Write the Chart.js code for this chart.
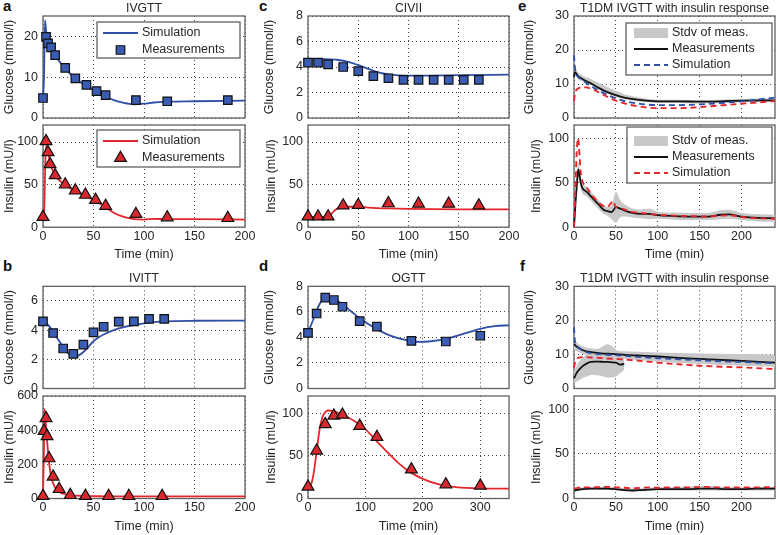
<!DOCTYPE html>
<html><head><meta charset="utf-8">
<script src="https://cdn.jsdelivr.net/npm/chart.js@4/dist/chart.umd.min.js"></script>
<style>
body{margin:0;background:#fff;width:777px;height:535px;position:relative;overflow:hidden;font-family:"Liberation Sans",Arial,sans-serif}
canvas{position:absolute}
.lt{position:absolute;font-weight:bold;font-size:15px;line-height:15px;color:#111}
</style></head><body>
<div class="lt" style="left:3px;top:-2px">a</div>
<div class="lt" style="left:3px;top:258px">b</div>
<div class="lt" style="left:259px;top:-2px">c</div>
<div class="lt" style="left:259px;top:258px">d</div>
<div class="lt" style="left:518px;top:-2px">e</div>
<div class="lt" style="left:520px;top:258px">f</div>
<script>
// ---------- DATA ----------
// a: IVGTT
const aGlucTime = [0, 3, 5, 8, 12, 22, 32, 43, 53, 62, 92, 123, 183];
const aGlucMeas = [4.9, 19.9, 18.3, 17.3, 15.4, 12.3, 9.7, 8.1, 6.6, 5.6, 4.4, 4.1, 4.4];
const aGlucSimTime = [0, 1, 2, 3, 4, 6, 8, 12, 20, 30, 40, 50, 60, 70, 80, 90, 100, 110, 120, 150, 200];
const aGlucSim = [4.9, 10, 23.9, 21.5, 19.8, 18.2, 17.1, 15.3, 12.7, 10.1, 8.3, 6.8, 5.5, 4.4, 3.7, 3.35, 3.5, 3.8, 3.95, 4.1, 4.25];
const aInsTime = [0, 3, 5, 7, 12, 22, 32, 42, 52, 62, 92, 123, 183];
const aInsMeas = [12, 101, 88, 74, 61, 50, 43, 38, 32, 25, 15.5, 11.5, 10.7];
const aInsSimTime = [0, 1, 2, 2.5, 3.5, 5, 8, 12, 20, 30, 40, 50, 60, 70, 80, 90, 100, 110, 120, 150, 200];
const aInsSim = [12, 14, 60, 85, 96, 88, 72, 61, 51, 44, 38, 32, 25, 17, 12, 9.5, 9, 9.8, 9.5, 9.5, 9];
// b: IVITT
const bGlucTime = [0, 10, 20, 30, 40, 50, 60, 75, 90, 105, 120];
const bGlucMeas = [4.6, 3.8, 2.74, 2.37, 3.0, 3.84, 4.23, 4.58, 4.6, 4.77, 4.77];
const bGlucSimTime = [0, 5, 10, 15, 20, 25, 30, 35, 40, 45, 50, 55, 60, 70, 80, 90, 105, 120, 150, 200];
const bGlucSim = [4.6, 4.35, 3.9, 3.35, 2.85, 2.4, 2.18, 2.25, 2.5, 2.85, 3.25, 3.5, 3.7, 4.0, 4.2, 4.35, 4.52, 4.6, 4.64, 4.65];
const bInsTime = [0, 1, 3, 4, 6, 10, 16, 27, 42, 65, 85, 118];
const bInsMeas = [15, 395, 470, 365, 235, 128, 55, 20, 15, 14, 14, 14];
const bInsSimTime = [0, 1, 1.5, 2.5, 4, 6, 8, 10, 13, 17, 22, 30, 45, 60, 100, 200];
const bInsSim = [15, 300, 525, 460, 340, 210, 130, 90, 55, 35, 25, 18, 14, 13, 12.5, 12.5];
// c: CIVII
const cGlucTime = [0, 10, 20, 35, 50, 65, 80, 95, 110, 125, 140, 155, 170];
const cGlucMeas = [4.35, 4.35, 4.2, 4.0, 3.68, 3.28, 3.12, 2.99, 2.99, 2.99, 2.99, 2.99, 2.99];
const cGlucSimTime = [0, 15, 30, 40, 50, 60, 70, 80, 90, 110, 150, 200];
const cGlucSim = [4.65, 4.62, 4.55, 4.4, 4.15, 3.85, 3.58, 3.42, 3.35, 3.33, 3.36, 3.4];
const cInsTime = [0, 10, 20, 35, 50, 80, 110, 140, 170];
const cInsMeas = [12.5, 12.5, 12.5, 25.5, 26, 28, 27.5, 27.5, 25.5];
const cInsSimTime = [0, 20, 25, 30, 40, 50, 60, 80, 100, 150, 200];
const cInsSim = [12, 12, 18, 22.5, 24, 24, 23, 22, 21.5, 21, 21];
// d: OGTT
const dGlucTime = [0, 15, 30, 45, 60, 90, 120, 180, 240, 300];
const dGlucMeas = [4.35, 5.87, 7.12, 6.93, 6.4, 5.28, 4.85, 3.73, 3.68, 4.13];
const dGlucSimTime = [0, 10, 20, 30, 40, 50, 60, 75, 90, 105, 120, 140, 160, 180, 195, 210, 240, 270, 300, 325, 350];
const dGlucSim = [4.35, 5.5, 6.6, 7.1, 7.1, 6.9, 6.6, 6.05, 5.5, 5.05, 4.65, 4.2, 3.9, 3.72, 3.65, 3.68, 3.88, 4.27, 4.67, 4.88, 4.95];
const dInsTime = [0, 15, 30, 45, 60, 90, 120, 180, 240, 300];
const dInsMeas = [13.8, 56, 87, 97, 98, 85, 72, 34, 16.5, 15];
const dInsSimTime = [0, 5, 10, 15, 20, 25, 30, 35, 45, 60, 80, 100, 120, 140, 160, 180, 200, 225, 250, 275, 300, 350];
const dInsSim = [14, 16, 30, 55, 80, 95, 101, 103, 102, 98, 91, 81, 67, 53, 40, 30, 23, 17, 14, 12.5, 11.8, 11.5];
// e: T1DM IVGTT with insulin response
const eGlucTime = [0, 1, 3, 5, 10, 15, 20, 30, 40, 50, 60, 75, 100, 125, 150, 175, 200, 240];
const eGlucMeas = [12, 13.5, 13, 12.3, 11.5, 10.8, 10.2, 8.8, 7.6, 6.7, 6.0, 5.4, 4.9, 4.9, 4.8, 4.9, 5.1, 5.2];
const eGlucStdLo = [11, 12.5, 12.2, 11.5, 10.8, 10.1, 9.6, 8.3, 7.1, 6.2, 5.5, 5.0, 4.4, 4.4, 4.3, 4.4, 4.6, 4.7];
const eGlucStdHi = [13, 14.5, 14, 13.3, 12.5, 12, 11.5, 10.3, 9.1, 8.0, 7.0, 6.2, 5.4, 5.4, 5.3, 5.4, 5.6, 5.7];
const eGlucSimBlue = [18.5, 15, 12.8, 12, 11.2, 10.2, 9.4, 8, 6.8, 5.8, 5.0, 4.3, 3.8, 3.8, 4.0, 4.4, 4.9, 6.0];
const eGlucSimRed = [5, 7, 8.3, 8.7, 9.0, 9.0, 8.6, 7.5, 6.2, 5.1, 4.3, 3.5, 2.9, 2.9, 3.2, 3.7, 4.2, 5.0];
const eInsTime = [0, 2, 4, 5, 6, 8, 10, 15, 20, 25, 30, 35, 40, 45, 50, 55, 60, 70, 80, 90, 100, 120, 140, 160, 175, 185, 200, 220, 240];
const eInsMeas = [0, 30, 55, 65, 62, 50, 44, 40, 35, 30, 25, 20, 18, 17, 22.5, 21, 19, 16, 15, 15, 13.5, 12.5, 12, 12, 14, 14.5, 12, 10.5, 10];
const eInsStdLo = [0, 22, 47, 57, 54, 44, 38, 35, 30, 25, 20, 15, 13, 9, 5, 11, 12, 11, 10, 9, 9.5, 8.5, 8, 8, 9, 9.5, 8, 6.5, 6];
const eInsStdHi = [2, 38, 63, 73, 70, 56, 50, 45, 40, 35, 30, 25, 23, 25, 40, 31, 26, 21, 20, 21, 17.5, 16.5, 16, 16, 19, 19.5, 16, 14.5, 14];
const eInsSimTime = [0, 2, 3, 4, 5, 6, 7, 8, 10, 12, 15, 20, 25, 30, 35, 40, 45, 47, 49, 52, 60, 70, 80, 90, 100, 120, 140, 160, 175, 185, 200, 220, 240];
const eInsSim = [0, 50, 80, 95, 100, 90, 75, 62, 52, 48, 45, 38, 32, 27, 24, 23, 28, 29.5, 24, 22, 20, 17, 16, 15, 14, 13, 12.5, 12, 13, 13.5, 11.5, 10, 9.5];
// f: T1DM IVGTT with insulin response
const fGlucTime = [0, 1, 3, 5, 10, 15, 20, 30, 40, 50, 60, 75, 100, 125, 150, 175, 200, 240];
const fGlucMeas = [13, 12.8, 12.3, 12, 11.3, 10.9, 10.7, 10.4, 10.2, 10.1, 9.9, 9.7, 9.4, 9.0, 8.7, 8.4, 8.1, 7.6];
const fGlucStdLo = [11, 11.3, 11, 10.8, 10.2, 9.8, 9.5, 9.2, 9, 8.9, 8.7, 8.4, 7.9, 7.5, 7.2, 6.9, 6.7, 6.4];
const fGlucStdHi = [15, 14.3, 13.6, 13.2, 12.4, 12, 11.8, 11.5, 11.3, 11.1, 10.9, 10.8, 10.6, 10.4, 10.3, 10.2, 10.1, 9.9];
const fGlucSimBlue = [18, 14, 12.5, 12, 11.2, 10.7, 10.4, 10.1, 9.9, 9.8, 9.6, 9.3, 8.9, 8.6, 8.3, 8.0, 7.8, 7.4];
const fGlucSimRed = [6, 7.5, 8.5, 9, 9.2, 9.2, 9.1, 9.0, 8.8, 8.7, 8.5, 8.2, 7.6, 7.1, 6.7, 6.4, 6.2, 5.7];
const fGluc2Time = [0, 3, 5, 10, 15, 20, 25, 30, 35, 40, 45, 50, 55, 60];
const fGluc2Meas = [3, 4.5, 5.2, 6.5, 7.3, 7.8, 7.9, 7.9, 7.8, 7.8, 7.7, 7.6, 7.0, 7.2];
const fGluc2StdLo = [1.5, 2, 2.3, 3, 3.5, 4, 4, 3.8, 3.5, 3.2, 3.2, 3.5, 4.5, 5.5];
const fGluc2StdHi = [5, 6.5, 7.5, 9, 10, 10.5, 11, 11.8, 12.5, 13, 12.5, 11.5, 10, 9];
const fInsTime = [0, 10, 20, 30, 40, 50, 60, 70, 80, 90, 100, 110, 120, 140, 150, 160, 170, 180, 200, 220, 240];
const fInsMeas = [9, 10.5, 11, 11, 11, 10.5, 9.5, 9, 9.5, 10, 10.5, 10.5, 10.5, 10.5, 11, 11, 11, 10.5, 10.5, 11, 11];
const fInsSim = [11, 12.5, 12.5, 12.8, 13, 12.5, 12, 11.5, 12, 12.5, 12, 12.5, 12.5, 12.5, 13, 13, 12.5, 12.5, 12.5, 12.5, 12.8];
const fInsStdLo = [7.5, 9, 9.5, 9.5, 9.5, 9, 8, 7.5, 8, 8.5, 9, 9, 9, 9, 9, 9, 9, 9, 9, 9, 9];
const fInsStdHi = [11.5, 12.5, 13, 13, 13, 12.5, 11.5, 11, 11.5, 12, 12.5, 12.5, 13, 13.5, 14, 14, 13.5, 13, 12.5, 13, 13];

// ---------- STYLE ----------
const FONT = "'Liberation Sans', Arial, Helvetica, sans-serif";
const TXT = '#262626', GRID = '#444', FRAME = '#606060';
const BLUE = '#2f4ea5', BLUE_FILL = '#3a5cb3', RED = '#e3262c', RED_FILL = '#d8282e', GREY = '#c8c8c8', BLACK = '#111';

function P(t, v) { return t.map((x, i) => ({x: x, y: v[i]})); }
function simLine(label, t, v, color, dash, order) {
  return {label, data: P(t, v), borderColor: color, backgroundColor: color, borderWidth: dash ? 1.9 : 1.8,
    borderDash: dash || [], pointRadius: 0, pointHoverRadius: 0, cubicInterpolationMode: 'monotone',
    fill: false, order: order, clip: 2};
}
function markers(label, t, v, style, fillc, r) {
  return {label, data: P(t, v), showLine: false, pointStyle: style, pointRadius: r, pointHoverRadius: r,
    pointBackgroundColor: fillc, pointBorderColor: '#111', pointBorderWidth: 1.2, borderColor: '#111',
    backgroundColor: fillc, order: 0, clip: false};
}
function band(label, t, lo, hi) {
  return [
    {label: label + ' (lower)', data: P(t, lo), borderWidth: 0, pointRadius: 0, fill: false, order: 5,
      cubicInterpolationMode: 'monotone', borderColor: 'rgba(0,0,0,0)'},
    {label: label, data: P(t, hi), borderWidth: 0, pointRadius: 0, fill: '-1', order: 5,
      cubicInterpolationMode: 'monotone', borderColor: 'rgba(0,0,0,0)', backgroundColor: GREY}
  ];
}

const legendDefs = {};
const framePlugin = {id: 'frame', beforeDatasetsDraw(chart) {
  const a = chart.chartArea, c = chart.ctx;
  c.save(); c.strokeStyle = FRAME; c.lineWidth = 1.3;
  c.strokeRect(a.left, a.top, a.right - a.left, a.bottom - a.top); c.restore();
}};
const legendPlugin = {id: 'boxLegend', afterDraw(chart) {
  const d = legendDefs[chart.canvas.id]; if (!d) return;
  const c = chart.ctx, ox = d.ox, oy = d.oy;
  c.save();
  c.fillStyle = '#fff'; c.fillRect(d.x - ox, d.y - oy, d.w, d.h);
  c.strokeStyle = FRAME; c.lineWidth = 1.3; c.strokeRect(d.x - ox, d.y - oy, d.w, d.h);
  d.rows.forEach(r => {
    const ds = chart.data.datasets[r.ds];
    const y = r.y - oy, sx = d.sx - ox, ex = d.ex - ox;
    c.save();
    if (r.kind === 'line') {
      c.strokeStyle = ds.borderColor; c.lineWidth = ds.borderWidth; c.setLineDash(ds.borderDash || []);
      c.beginPath(); c.moveTo(sx, y); c.lineTo(ex, y); c.stroke();
    } else if (r.kind === 'patch') {
      c.fillStyle = ds.backgroundColor; c.fillRect(sx, y - 5, ex - sx, 10);
    } else {
      c.fillStyle = ds.pointBackgroundColor; c.strokeStyle = ds.pointBorderColor; c.lineWidth = ds.pointBorderWidth;
      Chart.helpers.drawPoint(c, {pointStyle: ds.pointStyle, radius: ds.pointRadius, borderWidth: ds.pointBorderWidth, rotation: 0}, (sx + ex) / 2, y);
    }
    c.restore();
    c.fillStyle = TXT; c.font = '12.5px ' + FONT; c.textBaseline = 'middle'; c.textAlign = 'left';
    c.fillText(ds.label, d.tx - ox, y);
  });
  c.restore();
}};

function makeChart(o) {
  const cv = document.createElement('canvas');
  cv.id = o.id; cv.width = o.cw; cv.height = o.ch;
  cv.style.left = o.cl + 'px'; cv.style.top = o.ct + 'px';
  document.body.appendChild(cv);
  const L = o.plot[0], T = o.plot[1], R = o.plot[2], B = o.plot[3];
  const yW = L - o.cl, xH = o.ct + o.ch - B, padR = o.cl + o.cw - R;
  let padTop = T - o.ct, title = {display: false};
  if (o.title) {
    const fs = 12.2, lh = fs * 1.2;
    const pt = Math.max(0, o.titleY - o.ct - lh / 2);
    const pb = Math.max(0, T - o.ct - pt - lh);
    title = {display: true, text: o.title, fullSize: false, color: TXT,
      font: {family: FONT, size: fs, weight: 'normal'}, padding: {top: pt, bottom: pb}};
    padTop = 0;
  }
  if (o.legend) { o.legend.ox = o.cl; o.legend.oy = o.ct; legendDefs[o.id] = o.legend; }
  const tickFont = {family: FONT, size: 12.5};
  const axFont = {family: FONT, size: 12.5};
  return new Chart(cv, {type: 'line', data: {datasets: o.datasets}, options: {
    responsive: false, animation: false, devicePixelRatio: 1, events: [],
    layout: {padding: {left: 0, top: padTop, right: padR, bottom: 0}},
    plugins: {legend: {display: false}, tooltip: {enabled: false}, title: title},
    scales: {
      x: {type: 'linear', min: o.x[0], max: o.x[1],
        afterFit: function (s) { s.height = xH; s.paddingLeft = 0; s.paddingRight = 0; },
        grid: {color: GRID, lineWidth: 1, drawTicks: false},
        border: {display: false, dash: [1, 3]},
        ticks: {display: !!o.xLabels, stepSize: o.x[2], includeBounds: false, padding: 1.5, color: TXT,
          font: tickFont, maxRotation: 0, autoSkip: false},
        title: {display: !!o.xLabels, text: 'Time (min)', color: TXT, font: axFont, padding: {top: 0, bottom: 0}}},
      y: {type: 'linear', min: o.y[0], max: o.y[1],
        afterFit: function (s) { s.width = yW; s.paddingTop = 0; s.paddingBottom = 0; },
        grid: {color: GRID, lineWidth: 1, drawTicks: false},
        border: {display: false, dash: [1, 3]},
        ticks: {stepSize: o.y[2], includeBounds: false, padding: 5, color: TXT, font: tickFont},
        title: {display: true, text: o.yTitle, color: TXT, font: axFont, padding: {top: o.yTitleX - o.cl - 7.5, bottom: 0}}}
    }}, plugins: [framePlugin, legendPlugin]});
}

// layout (page pixels)
const C1 = {cl: 0, cw: 262, L: 43, R: 245};
const C2 = {cl: 252, cw: 270, L: 308, R: 509};
const C3 = {cl: 512, cw: 265, L: 574, R: 775};
const RG1 = {ct: 0, ch: 132, T: 16, B: 118, ty: 8.5};
const RI1 = {ct: 112, ch: 150.3, T: 125, B: 227.5};
const RG2 = {ct: 266, ch: 134, T: 286, B: 388.5, ty: 279};
const RI2 = {ct: 382, ch: 152.5, T: 396, B: 499};
function box(C, Rw) { return {cl: C.cl, cw: C.cw, ct: Rw.ct, ch: Rw.ch, plot: [C.L, Rw.T, C.R, Rw.B]}; }

// a
makeChart(Object.assign(box(C1, RG1), {id: 'ag', title: 'IVGTT', titleY: RG1.ty, x: [0, 200, 50], y: [0, 25, 10],
  yTitle: 'Glucose (mmol/l)', yTitleX: 10,
  datasets: [markers('Measurements', aGlucTime, aGlucMeas, 'rect', BLUE_FILL, 6),
             simLine('Simulation', aGlucSimTime, aGlucSim, BLUE, null, 1)],
  legend: {x: 97, y: 22, w: 143, h: 36, sx: 103, ex: 138, tx: 142, rows: [{ds: 1, kind: 'line', y: 33}, {ds: 0, kind: 'point', y: 50}]}}));
makeChart(Object.assign(box(C1, RI1), {id: 'ai', xLabels: true, x: [0, 200, 50], y: [0, 120, 50],
  yTitle: 'Insulin (mU/l)', yTitleX: 10,
  datasets: [markers('Measurements', aInsTime, aInsMeas, 'triangle', RED_FILL, 6.8),
             simLine('Simulation', aInsSimTime, aInsSim, RED, null, 1)],
  legend: {x: 97, y: 130, w: 143, h: 37, sx: 103, ex: 138, tx: 142, rows: [{ds: 1, kind: 'line', y: 141}, {ds: 0, kind: 'point', y: 158}]}}));
// b
makeChart(Object.assign(box(C1, RG2), {id: 'bg', title: 'IVITT', titleY: RG2.ty, x: [0, 200, 50], y: [0, 7, 2],
  yTitle: 'Glucose (mmol/l)', yTitleX: 10,
  datasets: [markers('Measurements', bGlucTime, bGlucMeas, 'rect', BLUE_FILL, 6),
             simLine('Simulation', bGlucSimTime, bGlucSim, BLUE, null, 1)]}));
makeChart(Object.assign(box(C1, RI2), {id: 'bi', xLabels: true, x: [0, 200, 50], y: [0, 600, 200],
  yTitle: 'Insulin (mU/l)', yTitleX: 10,
  datasets: [markers('Measurements', bInsTime, bInsMeas, 'triangle', RED_FILL, 6.8),
             simLine('Simulation', bInsSimTime, bInsSim, RED, null, 1)]}));
// c
makeChart(Object.assign(box(C2, RG1), {id: 'cg', title: 'CIVII', titleY: RG1.ty, x: [0, 200, 50], y: [0, 8, 2],
  yTitle: 'Glucose (mmol/l)', yTitleX: 270,
  datasets: [markers('Measurements', cGlucTime, cGlucMeas, 'rect', BLUE_FILL, 6),
             simLine('Simulation', cGlucSimTime, cGlucSim, BLUE, null, 1)]}));
makeChart(Object.assign(box(C2, RI1), {id: 'ci', xLabels: true, x: [0, 200, 50], y: [0, 120, 50],
  yTitle: 'Insulin (mU/l)', yTitleX: 272,
  datasets: [markers('Measurements', cInsTime, cInsMeas, 'triangle', RED_FILL, 6.8),
             simLine('Simulation', cInsSimTime, cInsSim, RED, null, 1)]}));
// d
makeChart(Object.assign(box(C2, RG2), {id: 'dg', title: 'OGTT', titleY: RG2.ty, x: [0, 350, 100], y: [0, 8, 2],
  yTitle: 'Glucose (mmol/l)', yTitleX: 270,
  datasets: [markers('Measurements', dGlucTime, dGlucMeas, 'rect', BLUE_FILL, 6),
             simLine('Simulation', dGlucSimTime, dGlucSim, BLUE, null, 1)]}));
makeChart(Object.assign(box(C2, RI2), {id: 'di', xLabels: true, x: [0, 350, 100], y: [0, 120, 50],
  yTitle: 'Insulin (mU/l)', yTitleX: 272,
  datasets: [markers('Measurements', dInsTime, dInsMeas, 'triangle', RED_FILL, 6.8),
             simLine('Simulation', dInsSimTime, dInsSim, RED, null, 1)]}));
// e
makeChart(Object.assign(box(C3, RG1), {id: 'eg', title: 'T1DM IVGTT with insulin response', titleY: RG1.ty,
  x: [0, 240, 50], y: [0, 30, 10], yTitle: 'Glucose (mmol/l)', yTitleX: 530,
  datasets: band('Stdv of meas.', eGlucTime, eGlucStdLo, eGlucStdHi).concat([
    simLine('Measurements', eGlucTime, eGlucMeas, BLACK, null, 2),
    simLine('Simulation', eGlucTime, eGlucSimBlue, BLUE, [6, 4], 1),
    simLine('Simulation', eGlucTime, eGlucSimRed, RED, [6, 4], 0)]),
  legend: {x: 626, y: 23, w: 146, h: 52, sx: 634, ex: 668, tx: 672,
    rows: [{ds: 1, kind: 'patch', y: 33}, {ds: 2, kind: 'line', y: 49}, {ds: 3, kind: 'line', y: 65}]}}));
makeChart(Object.assign(box(C3, RI1), {id: 'ei', xLabels: true, x: [0, 240, 50], y: [0, 115, 50],
  yTitle: 'Insulin (mU/l)', yTitleX: 537,
  datasets: band('Stdv of meas.', eInsTime, eInsStdLo, eInsStdHi).concat([
    simLine('Measurements', eInsTime, eInsMeas, BLACK, null, 2),
    simLine('Simulation', eInsSimTime, eInsSim, RED, [6, 4], 1)]),
  legend: {x: 627, y: 127, w: 145, h: 56, sx: 634, ex: 668, tx: 672,
    rows: [{ds: 1, kind: 'patch', y: 141}, {ds: 2, kind: 'line', y: 157}, {ds: 3, kind: 'line', y: 173}]}}));
// f
makeChart(Object.assign(box(C3, RG2), {id: 'fg', title: 'T1DM IVGTT with insulin response', titleY: RG2.ty,
  x: [0, 240, 50], y: [0, 30, 10], yTitle: 'Glucose (mmol/l)', yTitleX: 530,
  datasets: band('Stdv of meas.', fGlucTime, fGlucStdLo, fGlucStdHi)
    .concat(band('Stdv of meas. 2', fGluc2Time, fGluc2StdLo, fGluc2StdHi)).concat([
    simLine('Measurements', fGlucTime, fGlucMeas, BLACK, null, 2),
    simLine('Measurements 2', fGluc2Time, fGluc2Meas, BLACK, null, 2),
    simLine('Simulation', fGlucTime, fGlucSimBlue, BLUE, [6, 4], 1),
    simLine('Simulation', fGlucTime, fGlucSimRed, RED, [6, 4], 0)])}));
makeChart(Object.assign(box(C3, RI2), {id: 'fi', xLabels: true, x: [0, 240, 50], y: [0, 115, 50],
  yTitle: 'Insulin (mU/l)', yTitleX: 537,
  datasets: band('Stdv of meas.', fInsTime, fInsStdLo, fInsStdHi).concat([
    simLine('Measurements', fInsTime, fInsMeas, BLACK, null, 2),
    simLine('Simulation', fInsTime, fInsSim, RED, [6, 4], 1)])}));
</script>
</body></html>
